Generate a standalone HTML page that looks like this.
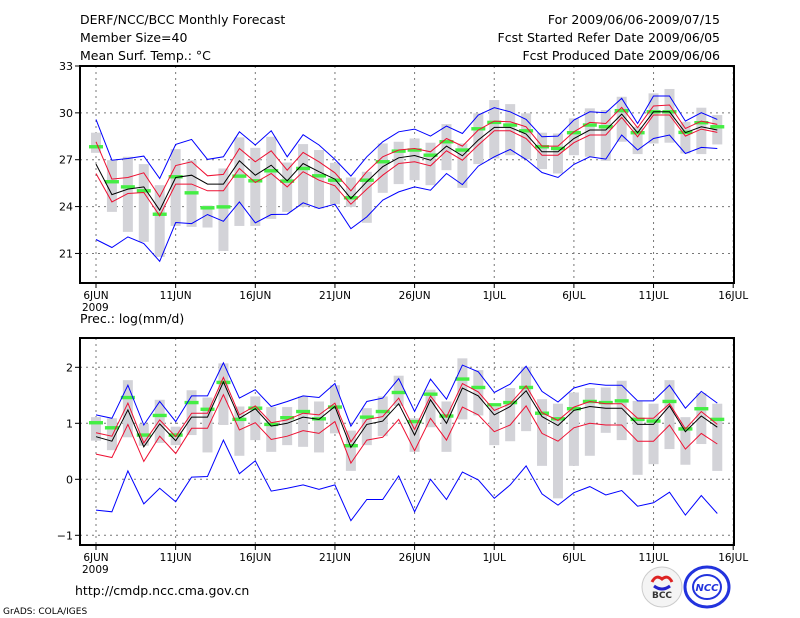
<!DOCTYPE html>
<html><head><meta charset="utf-8">
<style>
body{margin:0;background:#fff;}
svg{display:block;font-family:"DejaVu Sans","Liberation Sans",sans-serif;}
</style></head>
<body>
<svg id="chart" width="800" height="618" viewBox="0 0 800 618">
<g font-size="12.5" fill="#000">
<text x="80" y="24">DERF/NCC/BCC Monthly Forecast</text>
<text x="80" y="42">Member Size=40</text>
<text x="80" y="60">Mean Surf. Temp.: °C</text>
<text x="720" y="24" text-anchor="end">For 2009/06/06-2009/07/15</text>
<text x="720" y="42" text-anchor="end">Fcst Started Refer Date 2009/06/05</text>
<text x="720" y="60" text-anchor="end">Fcst Produced Date 2009/06/06</text>
<text x="80" y="323">Prec.: log(mm/d)</text>
<text x="75" y="595">http://cmdp.ncc.cma.gov.cn</text>
<text x="3" y="614" font-size="9">GrADS: COLA/IGES</text>
</g>
<g>
<circle cx="662" cy="587" r="20" fill="#f4f4f4" stroke="#ccc"/>
<path d="M652 582 q4 -8 10 -3 q6 -5 10 3" fill="none" stroke="#d22" stroke-width="3"/>
<path d="M654 586 q8 6 16 0" fill="none" stroke="#22c" stroke-width="3"/>
<text x="662" y="598" font-size="9" font-weight="bold" text-anchor="middle" fill="#333">BCC</text>
</g>
<g>
<ellipse cx="707" cy="587" rx="22" ry="20" fill="none" stroke="#2233dd" stroke-width="3"/>
<ellipse cx="707" cy="587" rx="14" ry="12" fill="none" stroke="#2233dd" stroke-width="2"/>
<text x="707" y="591" font-size="10" font-weight="bold" font-style="italic" text-anchor="middle" fill="#2233dd">NCC</text>
</g>
<g id="plots"></g>
</svg>
<script>
// ---- data ----
const days = ["6JUN","","","","","11JUN","","","","","16JUN","","","","","21JUN","","","","","26JUN","","","","","1JUL","","","","","6JUL","","","","","11JUL","","","","","16JUL"];
const tTicks = [21,24,27,30,33];
const pTicks = [-1,0,1,2];
const tBlueHi = [29.58,26.97,27.08,27.23,25.80,27.98,28.30,27.02,27.19,28.79,27.94,28.85,27.19,28.60,27.94,27.02,25.95,27.19,28.15,28.79,28.96,28.51,29.15,28.68,29.86,30.33,30.07,29.58,28.47,28.51,29.54,30.07,30.01,30.93,29.32,31.08,31.08,29.47,30.01,29.58];
const tBlueLo = [21.89,21.38,22.06,21.63,20.50,22.98,22.91,23.49,23.06,24.30,22.96,23.49,23.51,24.24,23.88,24.15,22.59,23.34,24.41,24.94,25.26,25.05,26.12,25.41,26.59,27.19,27.66,27.02,26.18,25.86,26.70,27.19,27.04,28.58,27.62,28.36,28.58,27.40,27.79,27.72];
const tMean = [26.72,24.77,25.12,25.26,23.77,25.86,26.01,25.44,25.44,26.93,26.01,26.65,25.65,26.76,26.23,25.76,24.52,25.59,26.55,27.12,27.27,26.97,27.87,27.25,28.26,29.07,29.07,28.64,27.51,27.51,28.36,28.90,28.90,29.92,28.73,30.07,30.07,28.73,29.11,28.90];
const tRedHi = [28.15,25.76,25.86,26.16,24.62,26.63,26.87,25.97,26.06,27.72,26.87,27.57,26.33,27.47,26.87,26.16,25.01,26.23,27.19,27.62,27.72,27.51,28.36,27.87,28.90,29.47,29.43,29.11,27.87,27.87,28.79,29.39,29.32,30.35,29.05,30.44,30.50,29.00,29.47,29.26];
const tRedLo = [26.12,24.30,24.84,24.90,23.41,25.44,25.44,25.01,25.01,26.44,25.54,26.12,25.26,26.23,25.69,25.33,24.15,25.12,26.01,26.76,26.87,26.61,27.57,26.97,27.94,28.85,28.85,28.36,27.29,27.29,28.09,28.58,28.58,29.71,28.47,29.86,29.86,28.51,28.96,28.75];
const tGreen = [27.83,25.59,25.26,25.01,23.51,25.91,24.88,23.92,23.98,25.95,25.65,26.29,25.63,26.44,25.97,25.69,24.56,25.69,26.87,27.55,27.62,27.29,28.15,27.62,28.98,29.39,29.22,28.85,27.83,27.72,28.73,29.22,29.11,30.14,28.73,30.07,30.07,28.75,29.37,29.11];
const tBarTop = [28.73,26.97,27.19,26.72,25.37,27.68,26.97,24.07,26.44,28.43,27.76,28.47,26.82,28.00,27.62,26.80,25.86,26.23,28.04,28.15,28.36,28.09,29.28,28.04,29.97,30.82,30.56,29.97,28.73,28.68,29.65,30.29,30.18,31.03,29.11,31.25,31.53,29.43,30.33,29.86];
const tBarBot = [27.44,23.66,22.38,21.74,20.78,22.76,22.70,22.66,21.16,22.76,22.76,23.21,23.66,23.98,23.88,24.15,23.98,22.96,24.88,25.44,25.69,25.37,26.33,25.20,26.72,27.08,27.29,27.04,26.40,26.12,27.29,27.19,26.93,28.15,27.36,28.04,28.09,27.40,27.36,27.98];
const pBlueHi = [1.15,1.09,1.68,0.97,1.39,1.03,1.49,1.49,2.08,1.45,1.60,1.30,1.39,1.49,1.46,1.71,0.95,1.39,1.45,1.80,1.21,1.79,1.43,2.04,1.92,1.55,1.70,2.02,1.57,1.38,1.63,1.71,1.68,1.68,1.40,1.40,1.68,1.27,1.57,1.36];
const pBlueLo = [-0.55,-0.58,0.15,-0.44,-0.16,-0.40,0.04,0.05,0.70,0.10,0.33,-0.21,-0.16,-0.10,-0.18,-0.10,-0.74,-0.36,-0.36,0.06,-0.58,0.00,-0.36,0.13,-0.01,-0.34,-0.10,0.24,-0.26,-0.46,-0.24,-0.13,-0.28,-0.20,-0.48,-0.42,-0.23,-0.64,-0.29,-0.61];
const pMean = [0.76,0.68,1.24,0.58,0.99,0.69,1.11,1.11,1.74,1.09,1.26,0.95,1.00,1.11,1.07,1.30,0.57,0.98,1.04,1.35,0.79,1.42,1.00,1.63,1.49,1.15,1.30,1.58,1.12,0.96,1.23,1.30,1.27,1.27,0.98,0.98,1.31,0.85,1.13,0.93];
const pRedHi = [0.83,0.77,1.36,0.65,1.06,0.76,1.18,1.18,1.82,1.15,1.31,1.01,1.06,1.18,1.15,1.36,0.67,1.07,1.12,1.45,0.89,1.49,1.11,1.71,1.56,1.23,1.35,1.67,1.19,1.05,1.29,1.39,1.35,1.35,1.09,1.09,1.35,0.90,1.21,0.98];
const pRedLo = [0.45,0.39,0.98,0.32,0.77,0.46,0.91,0.91,1.51,0.88,1.01,0.71,0.77,0.87,0.82,1.03,0.29,0.70,0.75,1.07,0.51,1.09,0.70,1.29,1.15,0.85,0.97,1.31,0.82,0.68,0.92,1.00,0.97,0.97,0.68,0.68,0.97,0.54,0.82,0.63];
const pGreen = [1.01,0.92,1.46,0.79,1.14,0.79,1.37,1.25,1.73,1.07,1.27,0.98,1.10,1.21,1.08,1.29,0.60,1.11,1.21,1.55,1.03,1.52,1.13,1.79,1.64,1.33,1.37,1.64,1.18,1.08,1.26,1.39,1.37,1.40,1.07,1.04,1.39,0.90,1.26,1.07];
const pBarTop = [1.11,1.09,1.77,0.99,1.42,0.94,1.59,1.46,2.07,1.30,1.48,1.29,1.29,1.48,1.39,1.68,0.87,1.27,1.48,1.85,1.09,1.60,1.39,2.16,1.95,1.29,1.63,2.01,1.43,1.35,1.55,1.63,1.64,1.76,1.40,1.35,1.77,1.11,1.54,1.35];
const pBarBot = [0.69,0.52,0.75,0.60,0.65,0.61,0.79,0.48,0.97,0.42,0.70,0.49,0.61,0.58,0.48,0.82,0.15,0.61,0.77,1.31,0.49,0.93,0.49,1.07,1.14,0.61,0.68,0.86,0.24,-0.34,0.24,0.42,0.83,0.70,0.08,0.27,0.54,0.26,0.63,0.15];

const NS = "http://www.w3.org/2000/svg";
const root = document.getElementById("plots");
function mk(tag, attrs, parent){ const e = document.createElementNS(NS, tag); for (const k in attrs) e.setAttribute(k, attrs[k]); (parent||root).appendChild(e); return e; }
const X0 = 80, X1 = 734;
function xs(i){ return 96 + i * 15.93; }

function panel(name, top, bottom, yFn, ticks, d){
  const g = mk("g", {});
  
  
  // grid
  for (let i = 0; i < days.length; i += 5) {
    const gl = mk("line", {x1: xs(i), x2: xs(i), y1: top, y2: bottom, stroke: "#777", "stroke-dasharray": "2,4"}, g);
    
    
  }
  ticks.forEach(t => {
    const y = yFn(t);
    const gl = mk("line", {x1: X0, x2: X1, y1: y, y2: y, stroke: "#777", "stroke-dasharray": "2,4"}, g);
    
    
    const tk = mk("line", {x1: X0 - 5, x2: X0, y1: y, y2: y, stroke: "#000"}, g);
    
    
    const tl = mk("text", {x: X0 - 7, y: y + 4, "text-anchor": "end", "font-size": "11"}, g);
    tl.textContent = t < 0 ? "\u2212" + Math.abs(t) : t;
    
    
  });
  // bars
  d.barTop.forEach((v, i) => {
    const y1 = yFn(v), y2 = yFn(d.barBot[i]);
    const b = mk("rect", {x: xs(i) - 5, y: y1, width: 10, height: y2 - y1, fill: "#d3d3d8"}, g);
    
    
  });
  // green dashes
  d.green.forEach((v, i) => {
    const r = mk("rect", {x: xs(i) - 7, y: yFn(v) - 1.7, width: 14, height: 3.4, fill: "#44ee44"}, g);
    
    
  });
  const series = [[d.blueHi, "#0000ff", "upper-bound-line"], [d.blueLo, "#0000ff", "lower-bound-line"],
                  [d.redHi, "#ee1133", "upper-spread-line"], [d.redLo, "#ee1133", "lower-spread-line"], [d.mean, "#000", "ensemble-mean-line"]];
  series.forEach(s => {
    const pts = s[0].map((v, i) => xs(i).toFixed(1) + "," + yFn(v).toFixed(1)).join(" ");
    const pl = mk("polyline", {points: pts, fill: "none", stroke: s[1], "stroke-width": 1}, g);
    
    
  });
  // frame
  const fr = mk("rect", {x: X0, y: top, width: X1 - X0, height: bottom - top, fill: "none", stroke: "#000", "stroke-width": 2}, g);
  
  
  // x labels
  for (let i = 0; i < days.length; i += 5) {
    const tk = mk("line", {x1: xs(i), x2: xs(i), y1: bottom, y2: bottom + 5, stroke: "#000"}, g);
    
    
    const tl = mk("text", {x: xs(i), y: bottom + 16, "text-anchor": "middle", "font-size": "10.5"}, g);
    tl.textContent = days[i];
    
    
  }
  const yr = mk("text", {x: 82, y: bottom + 28, "font-size": "10.5"}, g);
  yr.textContent = "2009";
  
  
}
panel("temperature-panel", 66, 283, v => 66 + (33 - v) * 15.62, tTicks,
  {barTop: tBarTop, barBot: tBarBot, green: tGreen, blueHi: tBlueHi, blueLo: tBlueLo, redHi: tRedHi, redLo: tRedLo, mean: tMean});
panel("precipitation-panel", 338, 545, v => 479.3 - v * 56, pTicks,
  {barTop: pBarTop, barBot: pBarBot, green: pGreen, blueHi: pBlueHi, blueLo: pBlueLo, redHi: pRedHi, redLo: pRedLo, mean: pMean});
</script>
</body></html>
